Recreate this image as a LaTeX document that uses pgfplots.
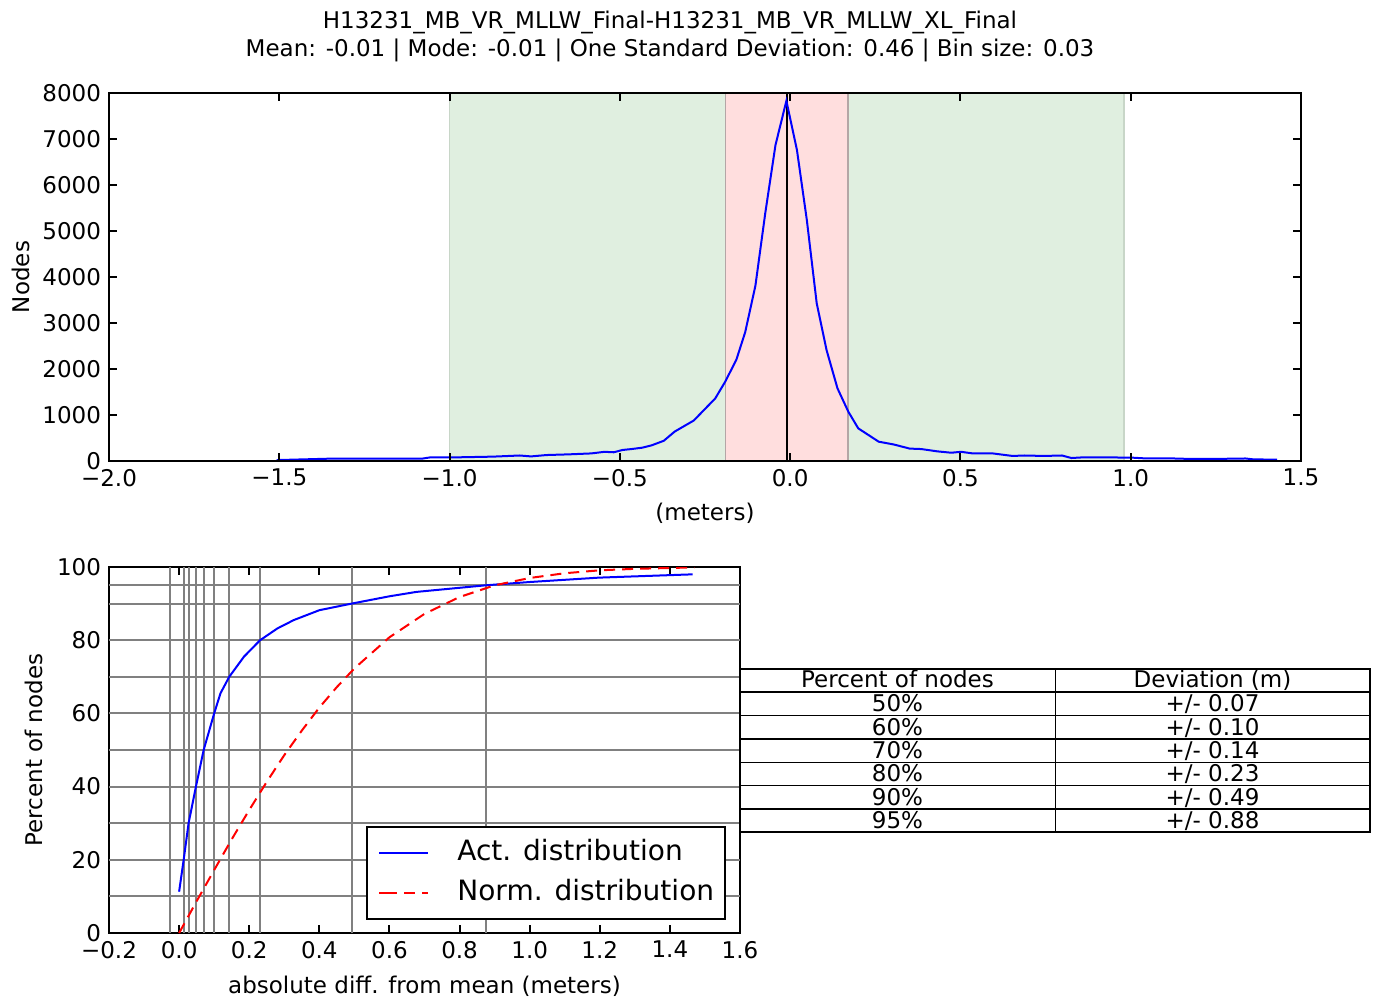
\documentclass[border=0pt]{standalone}
\usepackage{fontspec}
\setmainfont{DejaVu Sans}
\usepackage{pgfplots}
\pgfplotsset{compat=1.18}
\definecolor{spanGreen}{RGB}{224,239,224}
\definecolor{spanGreenEdge}{RGB}{200,214,200}
\definecolor{spanPink}{RGB}{255,222,222}
\definecolor{spanPinkEdge}{RGB}{180,166,166}
\definecolor{gridGray}{RGB}{128,128,128}
\newcommand{\fs}{\fontsize{11.5}{13.8}\selectfont}
\pgfplotsset{
  every axis/.append style={
    scale only axis,
    axis line style={line width=1pt},
    tick style={black, line width=1pt},
    major tick length=4pt,
    tick label style={font=\fs},
    label style={font=\fs},
    /pgf/number format/assume math mode=true,
    /pgf/number format/1000 sep={},
    scaled ticks=false,
  }
}
\begin{document}
\fs
\begin{tikzpicture}[x=0.5pt,y=-0.5pt]
\useasboundingbox (0,0) rectangle (1383,1003);
% Titles
\node[anchor=base] at (670,28) {H13231\_MB\_VR\_MLLW\_Final-H13231\_MB\_VR\_MLLW\_XL\_Final};
\node[anchor=base] at (670,56) {Mean: -0.01 | Mode: -0.01 | One Standard Deviation: 0.46 | Bin size: 0.03};

% ---------------- top histogram ----------------
\begin{axis}[
  at={(54.5pt,-230.5pt)}, anchor=south west,
  width=596pt, height=184pt,
  xmin=-2, xmax=1.5, ymin=0, ymax=8000,
  xtick={-2,-1.5,-1,-0.5,0,0.5,1,1.5},
  xticklabels={−2.0,−1.5,−1.0,−0.5,0.0,0.5,1.0,1.5},
  ytick={0,1000,2000,3000,4000,5000,6000,7000,8000},
  xlabel={(meters)}, ylabel={Nodes},
  xlabel style={at={(axis description cs:0.5,-0.1413)}, anchor=center},
  ylabel style={at={(axis description cs:-0.0738,0.5)}, anchor=center},
  axis on top,
]
\addplot[draw=none, fill=spanGreen] coordinates {(-1.0,0) (-1.0,8000) (0.98,8000) (0.98,0)} \closedcycle;
\addplot[draw=none, fill=spanPink] coordinates {(-0.19,0) (-0.19,8000) (0.17,8000) (0.17,0)} \closedcycle;
\addplot[spanGreenEdge, line width=0.8pt] coordinates {(-1.0,0) (-1.0,8000)};
\addplot[spanGreenEdge, line width=0.8pt] coordinates {(0.98,0) (0.98,8000)};
\addplot[spanPinkEdge, line width=0.8pt] coordinates {(-0.19,0) (-0.19,8000)};
\addplot[spanPinkEdge, line width=0.8pt] coordinates {(0.17,0) (0.17,8000)};
\addplot[black, line width=1pt] coordinates {(-0.01,0) (-0.01,8000)};
\addplot[blue, line width=1pt] coordinates {
(-1.508,20) (-1.357,50) (-1.213,50) (-1.082,50) (-1.056,80) (-0.977,80)
(-0.873,95) (-0.794,120) (-0.761,100) (-0.715,130) (-0.649,145) (-0.584,165)
(-0.545,200) (-0.518,190) (-0.492,240) (-0.466,260) (-0.434,290) (-0.407,340)
(-0.371,440) (-0.339,640) (-0.283,880) (-0.220,1360) (-0.191,1720) (-0.158,2200)
(-0.132,2800) (-0.102,3810) (-0.073,5390) (-0.043,6870) (-0.011,7830) (0.020,6760)
(0.049,5240) (0.078,3430) (0.107,2410) (0.139,1580) (0.171,1070) (0.200,710)
(0.260,420) (0.304,360) (0.351,270) (0.385,260) (0.432,210) (0.473,180)
(0.502,200) (0.536,165) (0.595,165) (0.653,110) (0.688,120) (0.745,110)
(0.798,120) (0.826,65) (0.861,80) (1.000,75) (1.035,60) (1.105,60)
(1.175,45) (1.244,45) (1.337,55) (1.361,35) (1.430,30)
};
\end{axis}

% ---------------- bottom cumulative ----------------
\begin{axis}[
  at={(54.5pt,-466.5pt)}, anchor=south west,
  width=315.5pt, height=183pt,
  xmin=-0.2, xmax=1.6, ymin=0, ymax=100,
  xtick={-0.2,0,0.2,0.4,0.6,0.8,1.0,1.2,1.4,1.6},
  xticklabels={−0.2,0.0,0.2,0.4,0.6,0.8,1.0,1.2,1.4,1.6},
  ytick={0,20,40,60,80,100},
  extra x ticks={-0.027,0.013,0.027,0.048,0.07,0.10,0.143,0.231,0.492,0.874},
  extra x tick labels={,,,,,,,,,},
  extra y ticks={10,20,30,40,50,60,70,80,90,95},
  extra y tick labels={,,,,,,,,,},
  extra tick style={grid=major, major tick length=0pt},
  major grid style={gridGray, line width=1pt},
  xlabel={absolute diff. from mean (meters)}, ylabel={Percent of nodes},
  xlabel style={at={(axis description cs:0.5,-0.1448)}, anchor=center},
  ylabel style={at={(axis description cs:-0.1197,0.5)}, anchor=center},
  legend style={at={(0.978,0.0355)}, anchor=south east, draw=black, line width=1pt,
    font=\fontsize{14}{16.8}\selectfont, inner xsep=5.5pt, inner ysep=6.5pt,
    row sep=7pt, nodes={inner sep=0pt, text height=10pt, text depth=3pt},
    /tikz/every odd column/.append style={column sep=14pt}},
  legend cell align=left,
  legend image code/.code={\path (0pt,0pt) -- (3.5pt,0pt); \draw[#1] (3.5pt,0pt) -- (24.5pt,0pt);},
]
\addplot[blue, line width=1pt] coordinates {
(0.0,11.3) (0.013,20) (0.027,30) (0.048,40) (0.07,50) (0.10,60) (0.118,65.5)
(0.143,70) (0.185,75.5) (0.231,80) (0.28,83.2) (0.327,85.5) (0.40,88.2) (0.492,90)
(0.60,92.0) (0.677,93.2) (0.874,95) (1.0,95.9) (1.198,97.1) (1.465,98)
};
\addlegendentry{Act. distribution}
\addplot[red, line width=1pt, dash pattern=on 5.5pt off 3.5pt] coordinates {
(0,0) (0.05,8.7) (0.1,17.2) (0.15,25.6) (0.2,33.6) (0.25,41.3) (0.3,48.6)
(0.35,55.3) (0.4,61.6) (0.45,67.2) (0.5,72.3) (0.6,80.8) (0.7,87.2)
(0.8,91.8) (0.9,95.0) (1.0,97.0) (1.1,98.3) (1.2,99.1) (1.3,99.5) (1.47,99.9)
};
\addlegendentry{Norm. distribution}
\end{axis}

% ---------------- table ----------------
\draw[line width=0.75pt] (740,669) rectangle (1370,832);
\foreach \yy in {692,715.5,739,762.5,785.5,809} \draw[line width=0.75pt] (740,\yy) -- (1370,\yy);
\draw[line width=0.75pt] (1055.5,669) -- (1055.5,832);
\node[anchor=base] at (897.5,687.5) {Percent of nodes};
\node[anchor=base] at (1212.5,687.5) {Deviation (m)};
\node[anchor=base] at (897.5,711.5) {50\%};
\node[anchor=base] at (1212.5,711.5) {+/- 0.07};
\node[anchor=base] at (897.5,735) {60\%};
\node[anchor=base] at (1212.5,735) {+/- 0.10};
\node[anchor=base] at (897.5,758.5) {70\%};
\node[anchor=base] at (1212.5,758.5) {+/- 0.14};
\node[anchor=base] at (897.5,781.5) {80\%};
\node[anchor=base] at (1212.5,781.5) {+/- 0.23};
\node[anchor=base] at (897.5,805) {90\%};
\node[anchor=base] at (1212.5,805) {+/- 0.49};
\node[anchor=base] at (897.5,828) {95\%};
\node[anchor=base] at (1212.5,828) {+/- 0.88};
\end{tikzpicture}
\end{document}
